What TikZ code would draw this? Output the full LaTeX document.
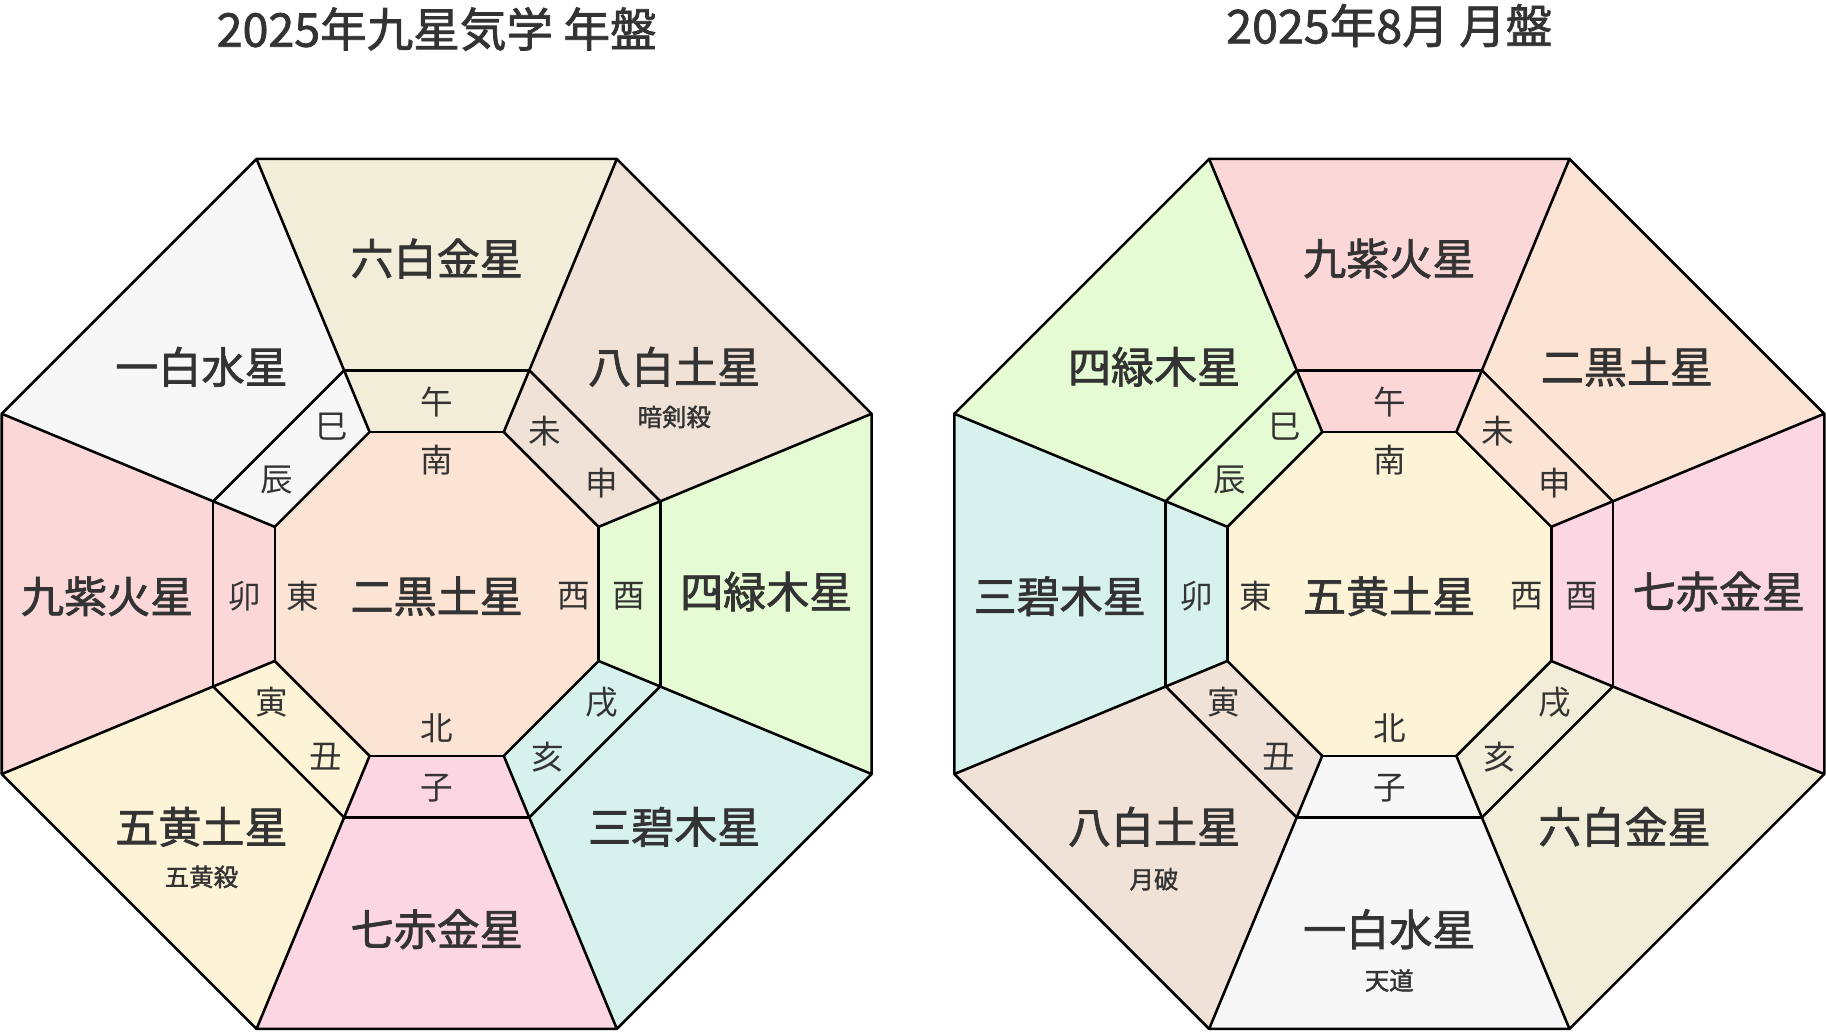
\documentclass[tikz,border=0pt]{standalone}
\usepackage{fontspec}
\newfontfamily\jp{Noto Sans CJK JP}
\newfontfamily\jpb[FakeBold=1.6]{Noto Sans CJK JP}
\definecolor{ink}{HTML}{333333}
\definecolor{ichi}{HTML}{F7F7F7}
\definecolor{ni}{HTML}{FCE4D4}
\definecolor{san}{HTML}{D7F2EC}
\definecolor{yon}{HTML}{E4FBD3}
\definecolor{go}{HTML}{FDF4D8}
\definecolor{roku}{HTML}{F2EDD8}
\definecolor{nana}{HTML}{FCD6E3}
\definecolor{hachi}{HTML}{F0E2D6}
\definecolor{kyu}{HTML}{FBD7D8}
\tikzset{
  waku/.style={draw=black,line width=1.1pt,line join=round},
  hoshi/.style={text=ink,font=\jpb\fontsize{18.5}{18.5}\selectfont},
  shi/.style={text=ink,font=\jp\fontsize{14}{14}\selectfont},
  sho/.style={text=ink,font=\jpb\fontsize{10.5}{10.5}\selectfont},
  midashi/.style={text=ink,font=\jpb\fontsize{20}{20}\selectfont}
}
\begin{document}
\begin{tikzpicture}[x=0.5pt,y=0.5pt]
\useasboundingbox (-375,-377) rectangle (1193,510);
% two boards, sectors listed clockwise from the top (south)
\foreach \ox/\cen/\cs in {0/ni/{roku,hachi,yon,san,nana,go,kyu,ichi},818/go/{kyu,ni,nana,roku,ichi,hachi,san,yon}}{
  \begin{scope}[xshift=\ox*0.5pt]
    \foreach \c [count=\i] in \cs {
      \pgfmathsetmacro\a{90-45*(\i-1)}
      \fill[\c] (\a-22.5:150.5) -- (\a-22.5:404.3) -- (\a+22.5:404.3) -- (\a+22.5:150.5) -- cycle;
    }
    \fill[\cen] (22.5:150.5) \foreach \k in {1,...,7}{ -- (22.5+45*\k:150.5)} -- cycle;
    \foreach \k in {0,...,7}{
      \draw[waku] (22.5+45*\k:150.5) -- (22.5+45*\k:404.3) -- (67.5+45*\k:404.3);
      \draw[waku] (22.5+45*\k:207.8) -- (67.5+45*\k:207.8);
      \draw[waku] (22.5+45*\k:150.5) -- (67.5+45*\k:150.5);
    }
    % zodiac and compass labels
    \node[shi] (uma) at (0,165) {午};
    \node[shi] (hitsuji) at (93,140) {未};
    \node[shi] (saru) at (142,95) {申};
    \node[shi] (tori) at (165,-2) {酉};
    \node[shi] (inu) at (142,-93) {戌};
    \node[shi] (i) at (95,-140) {亥};
    \node[shi] (ne) at (0,-167) {子};
    \node[shi] (ushi) at (-95,-140) {丑};
    \node[shi] (tora) at (-142,-93) {寅};
    \node[shi] (u) at (-165,-2) {卯};
    \node[shi] (tatsu) at (-137,98) {辰};
    \node[shi] (mi) at (-90,144) {巳};
    \node[shi] (minami) at (0,115) {南};
    \node[shi] (kita) at (0,-115) {北};
    \node[shi] (higashi) at (-115,-2) {東};
    \node[shi] (nishi) at (118,-2) {西};
  \end{scope}
}
% year board
\node[midashi] (nenban) at (0,485) {2025年九星気学 年盤};
\node[hoshi] (n-center) at (0,-2) {二黒土星};
\node[hoshi] (n-s) at (0,288) {六白金星};
\node[hoshi] (n-sw) at (204,195) {八白土星};
\node[sho] (n-sw2) at (204,152) {暗剣殺};
\node[hoshi] (n-w) at (283,2) {四緑木星};
\node[hoshi] (n-nw) at (204,-200) {三碧木星};
\node[hoshi] (n-n) at (0,-288) {七赤金星};
\node[hoshi] (n-ne) at (-202,-200) {五黄土星};
\node[sho] (n-ne2) at (-202,-243) {五黄殺};
\node[hoshi] (n-e) at (-283,-2) {九紫火星};
\node[hoshi] (n-se) at (-202,195) {一白水星};
% month board
\node[midashi] (getsuban) at (818,488) {2025年8月 月盤};
\node[hoshi] (g-center) at (818,-2) {五黄土星};
\node[hoshi] (g-s) at (818,288) {九紫火星};
\node[hoshi] (g-sw) at (1022,195) {二黒土星};
\node[hoshi] (g-w) at (1101,2) {七赤金星};
\node[hoshi] (g-nw) at (1020,-200) {六白金星};
\node[hoshi] (g-n) at (818,-288) {一白水星};
\node[sho] (g-n2) at (818,-332) {天道};
\node[hoshi] (g-ne) at (616,-200) {八白土星};
\node[sho] (g-ne2) at (616,-245) {月破};
\node[hoshi] (g-e) at (535,-2) {三碧木星};
\node[hoshi] (g-se) at (616,195) {四緑木星};
\end{tikzpicture}
\end{document}
